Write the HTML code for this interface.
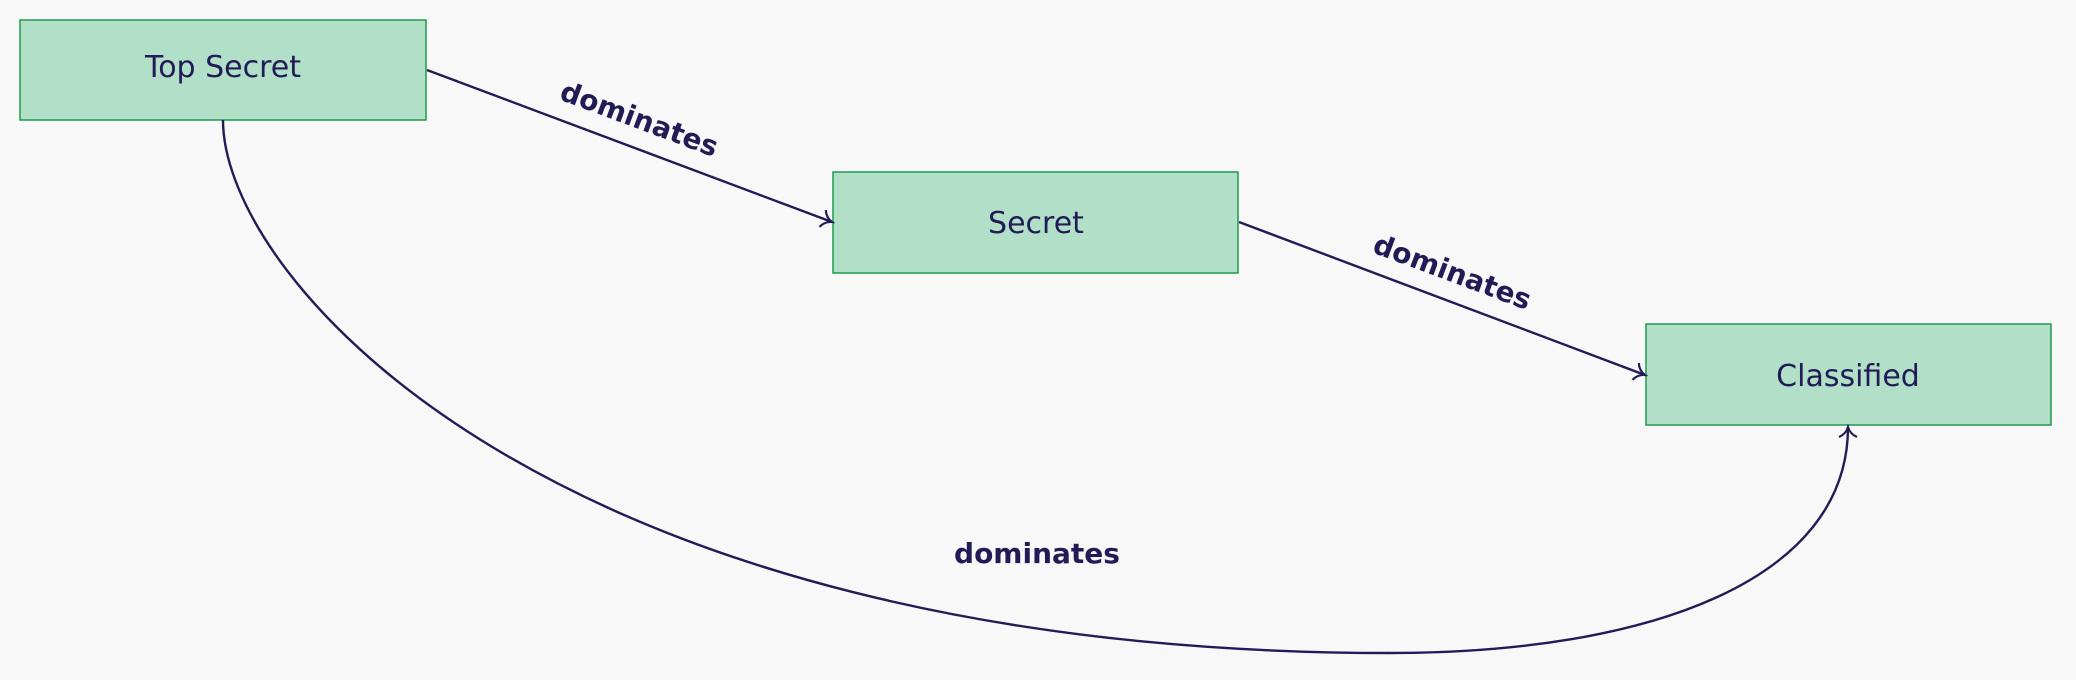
<!DOCTYPE html>
<html><head><meta charset="utf-8"><style>
html,body{margin:0;padding:0;background:#f8f8f8;}
svg{display:block;}
</style></head><body>
<svg width="2076" height="680" viewBox="0 0 2076 680" xmlns="http://www.w3.org/2000/svg">
<defs>
<marker id="a" markerWidth="16" markerHeight="20" refX="13" refY="10" orient="auto" markerUnits="userSpaceOnUse">
<path d="M3,1 Q6,8 13,10 Q6,12 3,19" fill="none" stroke="#211c56" stroke-width="2.2"/>
</marker>
</defs>
<rect x="20" y="20" width="406" height="100" fill="#b2dfc8" stroke="#1e9b4f" stroke-width="1.5"/>
<rect x="833" y="172" width="405" height="101" fill="#b2dfc8" stroke="#1e9b4f" stroke-width="1.5"/>
<rect x="1646" y="324" width="405" height="101" fill="#b2dfc8" stroke="#1e9b4f" stroke-width="1.5"/>
<g font-family="'DejaVu Sans','Liberation Sans',sans-serif" fill="#211c56">
<text x="223" y="77" font-size="30" text-anchor="middle">Top Secret</text>
<text x="1036" y="233" font-size="30" text-anchor="middle">Secret</text>
<text x="1848" y="386" font-size="30" text-anchor="middle">Classified</text>
<g font-weight="bold" font-size="28">
<text transform="translate(636,128) rotate(20.5)" text-anchor="middle">dominates</text>
<text transform="translate(1449,281) rotate(20.5)" text-anchor="middle">dominates</text>
<text x="1037" y="563" text-anchor="middle">dominates</text>
</g>
</g>
<g fill="none" stroke="#211c56" stroke-width="2.4">
<line x1="427" y1="70" x2="832" y2="222" marker-end="url(#a)"/>
<line x1="1239" y1="222" x2="1645" y2="375" marker-end="url(#a)"/>
<path d="M223,120 C223,280 550,653 1390,653 C1650,653 1848,580 1848,427" marker-end="url(#a)"/>
</g>
</svg>
</body></html>
